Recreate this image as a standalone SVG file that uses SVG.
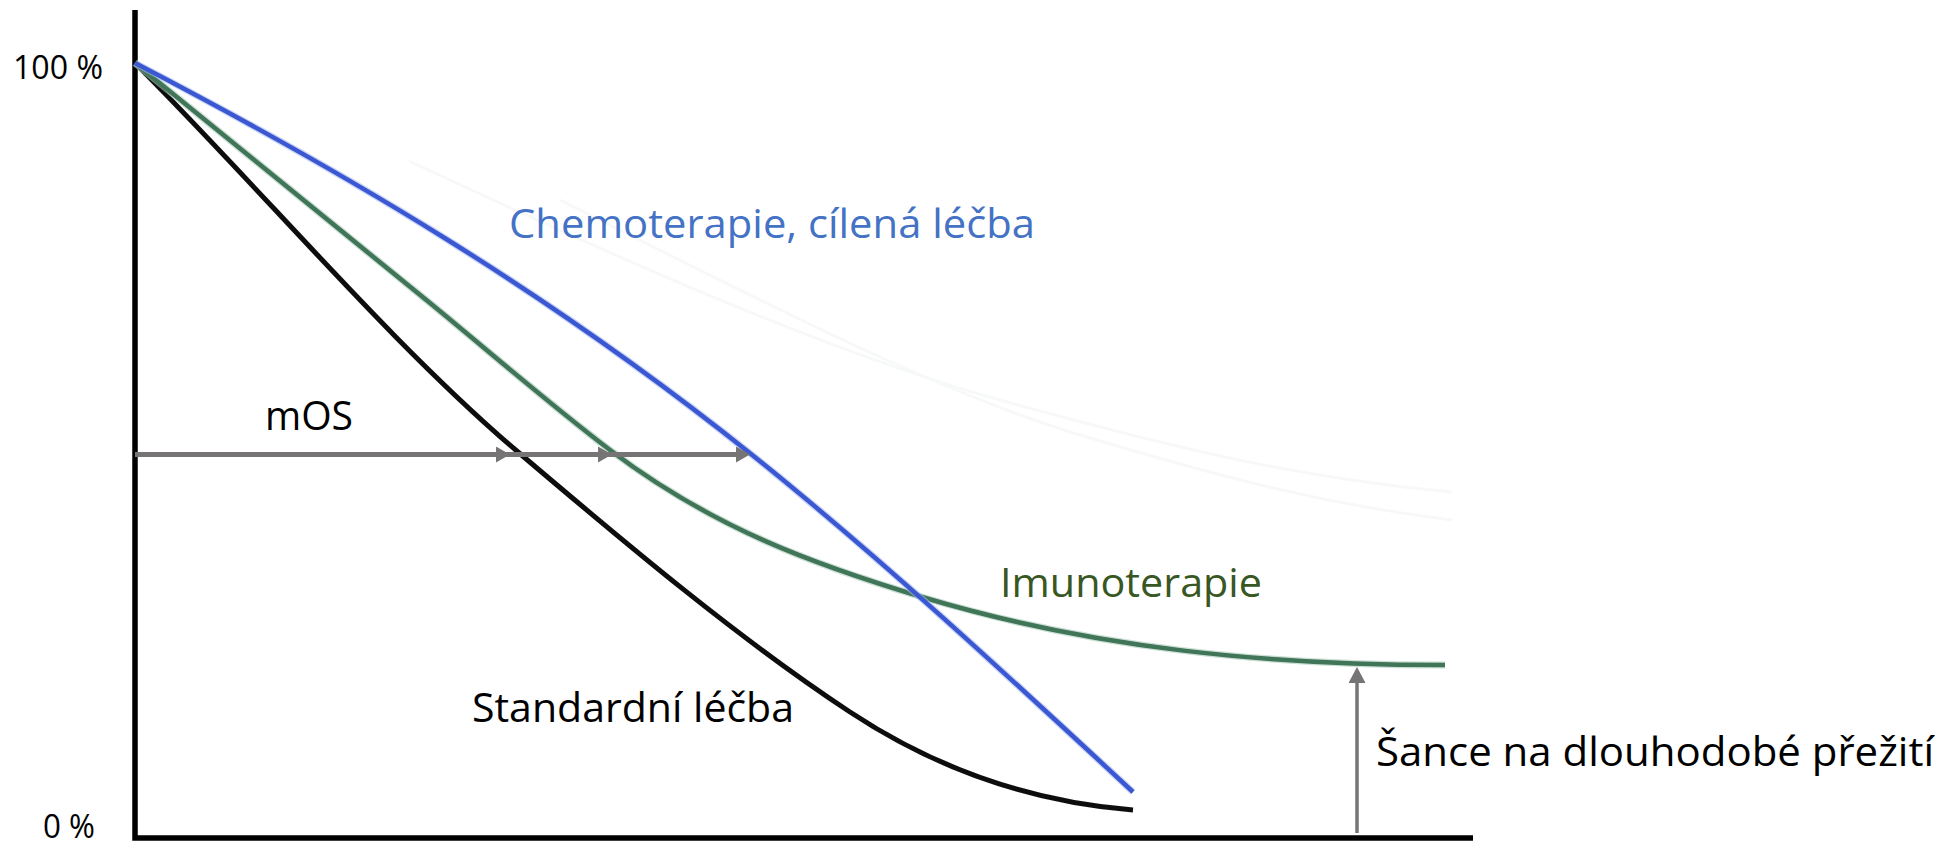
<svg xmlns="http://www.w3.org/2000/svg" width="1944" height="847" viewBox="0 0 1944 847">
  <style>
    .lbl { font-family: "Open Sans", "Noto Sans", "Liberation Sans", sans-serif; font-size: 41px; fill: #000; }
    .axl { font-family: "Open Sans", "Noto Sans", "Liberation Sans", sans-serif; font-size: 32px; fill: #000; }
    .curve { fill: none; stroke-linejoin: round; stroke-linecap: butt; }
    .arr { stroke: #767474; fill: none; }
  </style>
  <defs>
    <filter id="soft" x="-5%" y="-5%" width="110%" height="110%">
      <feGaussianBlur stdDeviation="0.7"/>
    </filter>
    <marker id="ah" markerUnits="userSpaceOnUse" markerWidth="14" markerHeight="16" viewBox="0 0 14 16" refX="4" refY="8" orient="auto">
      <path d="M0,0 L14,8 L0,16 z" fill="#767474"/>
    </marker>
    <marker id="av" markerUnits="userSpaceOnUse" markerWidth="16" markerHeight="17" viewBox="0 0 16 17" refX="2" refY="8.5" orient="auto">
      <path d="M0,0 L16,8.5 L0,17 z" fill="#767474"/>
    </marker>
  </defs>
  <rect width="1944" height="847" fill="#ffffff"/>

  <g id="ghost" fill="none" stroke="#f7f9f8" stroke-width="3">
    <path d="M409,161 C600,250 820,350 1000,400 S1300,478 1452,492"/>
    <path d="M560,200 C740,290 930,390 1080,435 S1330,505 1452,520"/>
  </g>

  <g id="axes" filter="url(#soft)">
    <polyline points="135,10 135,838 1473,838" fill="none" stroke="#000" stroke-width="5.5" stroke-linejoin="miter"/>
  </g>

  <g id="curve-standard" filter="url(#soft)">
    <path class="curve" stroke="#0d0d0d" stroke-width="5" d="M135,63 C262.7,190.7 390.3,343.5 518,452 C628.7,546.1 739.3,639 850,712 C944.3,774.3 1038.7,802.5 1133,810"/>
  </g>

  <g id="curve-imuno" filter="url(#soft)">
    <path class="curve" stroke="#a9c9b8" stroke-width="7" opacity="0.6" d="M135,63 C233.3,143.6 331.7,222.4 430,303 C490,352.2 550,404.4 610,450 C714,529 818,565.8 922,597 C1096.3,649.3 1270.7,665 1445,665"/>
    <path class="curve" stroke="#3f7459" stroke-width="4.5" d="M135,63 C233.3,143.6 331.7,222.4 430,303 C490,352.2 550,404.4 610,450 C714,529 818,565.8 922,597 C1096.3,649.3 1270.7,665 1445,665"/>
  </g>

  <g id="curve-chemo" filter="url(#soft)">
    <path class="curve" stroke="#a8baf0" stroke-width="7" opacity="0.6" d="M135,63 C340,169.6 546,290 751,454 C878.3,555.9 1005.7,673.6 1133,792"/>
    <path class="curve" stroke="#3a58d2" stroke-width="4.5" d="M135,63 C340,169.6 546,290 751,454 C878.3,555.9 1005.7,673.6 1133,792"/>
  </g>

  <g id="connectors">
    <line class="arr" x1="135" y1="454.5" x2="500" y2="454.5" stroke-width="5" marker-end="url(#ah)"/>
    <line class="arr" x1="500" y1="454.5" x2="602" y2="454.5" stroke-width="5" marker-end="url(#ah)"/>
    <line class="arr" x1="602" y1="454.5" x2="740" y2="454.5" stroke-width="5" marker-end="url(#ah)"/>
    <line class="arr" x1="1357" y1="833" x2="1357" y2="681" stroke-width="3.5" marker-end="url(#av)"/>
  </g>

  <g id="labels">
    <text id="lbl-100" class="axl" x="13" y="79" textLength="90" lengthAdjust="spacingAndGlyphs">100 %</text>
    <text id="lbl-0" class="axl" x="43" y="838" textLength="52" lengthAdjust="spacingAndGlyphs">0 %</text>
    <text id="lbl-chemo" class="lbl" x="509" y="238" style="fill:#4472c4" textLength="526" lengthAdjust="spacingAndGlyphs">Chemoterapie, cílená léčba</text>
    <text id="lbl-mos" class="lbl" x="265" y="430" textLength="88" lengthAdjust="spacingAndGlyphs">mOS</text>
    <text id="lbl-imuno" class="lbl" x="1000" y="597" style="fill:#385723" textLength="262" lengthAdjust="spacingAndGlyphs">Imunoterapie</text>
    <text id="lbl-standard" class="lbl" x="472" y="722" textLength="322" lengthAdjust="spacingAndGlyphs">Standardní léčba</text>
    <text id="lbl-sance" class="lbl" x="1376" y="766" textLength="558" lengthAdjust="spacingAndGlyphs">Šance na dlouhodobé přežití</text>
  </g>
</svg>
